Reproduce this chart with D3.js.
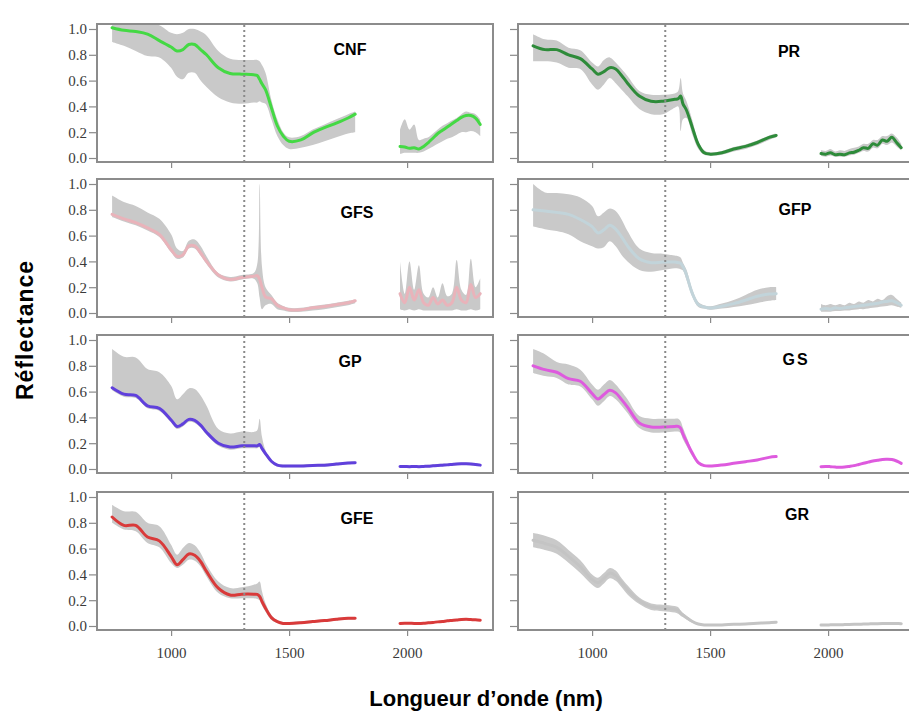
<!DOCTYPE html>
<html><head><meta charset="utf-8">
<script src="https://cdn.jsdelivr.net/npm/d3@7/dist/d3.min.js"></script>
<style>body{margin:0;background:#fff}</style>
</head><body>
<svg id="chart" width="909" height="712"></svg>
<script>
// ---------- DATA ----------
// wavelengths (nm): first segment 750-1780, second segment 1970-2310
const wavelengths = [750, 800, 850, 900, 950, 1000, 1025, 1050, 1075, 1100, 1125, 1150, 1200, 1250, 1300,
  1350, 1365, 1375, 1385, 1400, 1425, 1450, 1475, 1500, 1550, 1600, 1650, 1700, 1750, 1780,
  1970, 1990, 2010, 2030, 2050, 2070, 2090, 2110, 2130, 2150, 2170, 2190, 2210, 2230, 2250, 2270, 2290, 2310];
const panelNames = ["CNF", "PR", "GFS", "GFP", "GP", "GS", "GFE", "GR"];
const yTicks = [0.0, 0.2, 0.4, 0.6, 0.8, 1.0];
const xTicks = [1000, 1500, 2000];
const dashedWavelength = 1310;
const xLabel = "Longueur d’onde (nm)";
const yLabel = "Réflectance";

const cnfMean = [1.01, 0.99, 0.98, 0.96, 0.91, 0.86, 0.83, 0.84, 0.88, 0.88, 0.84, 0.80, 0.70, 0.655, 0.65, 0.645, 0.64, 0.61, 0.575, 0.53, 0.39, 0.25, 0.17, 0.13, 0.14, 0.195, 0.235, 0.27, 0.31, 0.34,
  0.09, 0.085, 0.075, 0.08, 0.07, 0.09, 0.12, 0.155, 0.19, 0.215, 0.24, 0.265, 0.29, 0.315, 0.33, 0.33, 0.31, 0.26];
const cnfHigh = [1.04, 1.04, 1.04, 1.04, 1.03, 0.97, 0.96, 0.97, 1.0, 1.0, 0.98, 0.95, 0.83, 0.77, 0.76, 0.76, 0.76, 0.75, 0.72, 0.66, 0.45, 0.30, 0.20, 0.16, 0.17, 0.22, 0.26, 0.30, 0.34, 0.36,
  0.22, 0.30, 0.22, 0.26, 0.14, 0.15, 0.16, 0.19, 0.22, 0.25, 0.27, 0.29, 0.31, 0.34, 0.36, 0.35, 0.34, 0.30];
const cnfLow = [0.90, 0.87, 0.83, 0.79, 0.78, 0.70, 0.63, 0.61, 0.66, 0.66, 0.60, 0.55, 0.47, 0.43, 0.42, 0.43, 0.43, 0.44, 0.43, 0.42, 0.30, 0.17, 0.10, 0.07, 0.08, 0.10, 0.13, 0.16, 0.19, 0.20,
  0.03, 0.04, 0.04, 0.04, 0.04, 0.05, 0.07, 0.09, 0.11, 0.13, 0.15, 0.16, 0.18, 0.20, 0.20, 0.21, 0.20, 0.17];

const prMean = [0.87, 0.84, 0.84, 0.80, 0.77, 0.69, 0.65, 0.67, 0.70, 0.69, 0.64, 0.58, 0.48, 0.44, 0.44, 0.455, 0.46, 0.48, 0.42, 0.37, 0.235, 0.105, 0.04, 0.03, 0.04, 0.07, 0.09, 0.12, 0.16, 0.175,
  0.035, 0.03, 0.04, 0.025, 0.03, 0.025, 0.04, 0.045, 0.06, 0.08, 0.075, 0.11, 0.10, 0.14, 0.13, 0.16, 0.12, 0.08];
const prHigh = [0.96, 0.92, 0.91, 0.855, 0.835, 0.74, 0.71, 0.76, 0.78, 0.74, 0.69, 0.635, 0.52, 0.49, 0.49, 0.50, 0.52, 0.62, 0.50, 0.44, 0.29, 0.13, 0.06, 0.045, 0.055, 0.085, 0.105, 0.135, 0.175, 0.19,
  0.06, 0.055, 0.07, 0.05, 0.06, 0.055, 0.07, 0.08, 0.09, 0.11, 0.11, 0.14, 0.14, 0.17, 0.17, 0.19, 0.16, 0.11];
const prLow = [0.75, 0.75, 0.74, 0.70, 0.69, 0.57, 0.53, 0.57, 0.62, 0.58, 0.53, 0.48, 0.38, 0.34, 0.34, 0.39, 0.40, 0.21, 0.30, 0.31, 0.18, 0.07, 0.025, 0.018, 0.025, 0.05, 0.07, 0.10, 0.14, 0.16,
  0.015, 0.01, 0.02, 0.01, 0.012, 0.01, 0.02, 0.025, 0.04, 0.055, 0.05, 0.08, 0.075, 0.11, 0.10, 0.12, 0.09, 0.06];

const gfsMean = [0.765, 0.73, 0.70, 0.66, 0.61, 0.49, 0.44, 0.45, 0.52, 0.52, 0.465, 0.40, 0.295, 0.26, 0.275, 0.285, 0.29, 0.26, 0.20, 0.125, 0.11, 0.06, 0.04, 0.026, 0.026, 0.04, 0.05, 0.065, 0.08, 0.095,
  0.15, 0.08, 0.20, 0.10, 0.18, 0.08, 0.06, 0.12, 0.07, 0.10, 0.06, 0.08, 0.20, 0.10, 0.08, 0.22, 0.12, 0.15];
const gfsHigh = [0.91, 0.86, 0.83, 0.78, 0.73, 0.61, 0.50, 0.48, 0.56, 0.57, 0.52, 0.44, 0.31, 0.28, 0.295, 0.31, 0.38, 1.0, 0.36, 0.20, 0.14, 0.08, 0.055, 0.04, 0.04, 0.055, 0.065, 0.08, 0.095, 0.105,
  0.40, 0.15, 0.40, 0.18, 0.37, 0.15, 0.12, 0.20, 0.12, 0.23, 0.13, 0.15, 0.41, 0.18, 0.14, 0.42, 0.20, 0.27];
const gfsLow = [0.745, 0.71, 0.68, 0.64, 0.59, 0.47, 0.42, 0.43, 0.50, 0.50, 0.445, 0.38, 0.275, 0.245, 0.26, 0.265, 0.23, 0.12, 0.03, 0.06, 0.07, 0.03, 0.02, 0.01, 0.01, 0.02, 0.03, 0.045, 0.06, 0.075,
  0.03, 0.02, 0.03, 0.02, 0.03, 0.02, 0.02, 0.02, 0.02, 0.02, 0.02, 0.02, 0.03, 0.02, 0.02, 0.03, 0.02, 0.03];

const gfpMean = [0.80, 0.79, 0.78, 0.765, 0.725, 0.67, 0.62, 0.645, 0.68, 0.65, 0.59, 0.52, 0.42, 0.39, 0.395, 0.395, 0.39, 0.385, 0.36, 0.295, 0.15, 0.065, 0.047, 0.039, 0.053, 0.073, 0.10, 0.13, 0.147, 0.15,
  0.03, 0.035, 0.03, 0.04, 0.035, 0.04, 0.045, 0.05, 0.055, 0.06, 0.065, 0.07, 0.075, 0.085, 0.09, 0.095, 0.08, 0.06];
const gfpHigh = [1.0, 0.935, 0.93, 0.92, 0.895, 0.83, 0.75, 0.78, 0.81, 0.79, 0.725, 0.635, 0.50, 0.465, 0.46, 0.445, 0.44, 0.43, 0.39, 0.335, 0.18, 0.086, 0.06, 0.052, 0.073, 0.10, 0.14, 0.18, 0.20, 0.20,
  0.07, 0.06, 0.07, 0.06, 0.07, 0.06, 0.08, 0.07, 0.09, 0.08, 0.10, 0.09, 0.11, 0.10, 0.13, 0.14, 0.11, 0.08];
const gfpLow = [0.67, 0.65, 0.635, 0.61, 0.556, 0.517, 0.50, 0.51, 0.556, 0.517, 0.45, 0.40, 0.334, 0.32, 0.334, 0.347, 0.345, 0.34, 0.33, 0.256, 0.125, 0.047, 0.034, 0.026, 0.034, 0.047, 0.06, 0.078, 0.094, 0.10,
  0.01, 0.01, 0.01, 0.015, 0.015, 0.02, 0.02, 0.025, 0.03, 0.03, 0.035, 0.04, 0.045, 0.05, 0.055, 0.06, 0.05, 0.04];

const gpMean = [0.63, 0.58, 0.57, 0.49, 0.47, 0.38, 0.33, 0.35, 0.385, 0.377, 0.34, 0.285, 0.20, 0.17, 0.18, 0.18, 0.18, 0.19, 0.16, 0.12, 0.06, 0.03, 0.023, 0.023, 0.023, 0.028, 0.03, 0.038, 0.046, 0.048,
  0.02, 0.02, 0.018, 0.02, 0.018, 0.02, 0.022, 0.025, 0.028, 0.03, 0.032, 0.035, 0.038, 0.04, 0.04, 0.038, 0.035, 0.03];
const gpHigh = [0.93, 0.87, 0.865, 0.775, 0.75, 0.645, 0.54, 0.58, 0.625, 0.62, 0.57, 0.49, 0.31, 0.275, 0.29, 0.287, 0.30, 0.39, 0.25, 0.146, 0.07, 0.04, 0.033, 0.033, 0.033, 0.038, 0.04, 0.048, 0.056, 0.058,
  0.03, 0.03, 0.028, 0.03, 0.028, 0.03, 0.032, 0.035, 0.038, 0.04, 0.042, 0.045, 0.048, 0.05, 0.05, 0.048, 0.045, 0.04];
const gpLow = [0.61, 0.56, 0.55, 0.47, 0.45, 0.36, 0.31, 0.33, 0.365, 0.357, 0.32, 0.265, 0.18, 0.15, 0.16, 0.16, 0.16, 0.17, 0.14, 0.10, 0.045, 0.02, 0.013, 0.013, 0.013, 0.018, 0.02, 0.028, 0.036, 0.038,
  0.012, 0.012, 0.01, 0.012, 0.01, 0.012, 0.014, 0.017, 0.02, 0.022, 0.024, 0.027, 0.03, 0.032, 0.032, 0.03, 0.027, 0.022];

const gsMean = [0.80, 0.77, 0.75, 0.70, 0.68, 0.585, 0.543, 0.577, 0.61, 0.59, 0.538, 0.48, 0.356, 0.325, 0.325, 0.33, 0.33, 0.317, 0.27, 0.213, 0.122, 0.05, 0.026, 0.023, 0.031, 0.044, 0.057, 0.07, 0.09, 0.096,
  0.018, 0.02, 0.018, 0.015, 0.013, 0.015, 0.02, 0.026, 0.035, 0.044, 0.053, 0.062, 0.068, 0.074, 0.075, 0.073, 0.062, 0.044];
const gsHigh = [0.93, 0.89, 0.83, 0.81, 0.77, 0.655, 0.615, 0.655, 0.69, 0.655, 0.60, 0.54, 0.41, 0.39, 0.39, 0.39, 0.39, 0.37, 0.32, 0.25, 0.135, 0.057, 0.031, 0.028, 0.036, 0.049, 0.062, 0.075, 0.095, 0.10,
  0.024, 0.026, 0.024, 0.021, 0.019, 0.021, 0.026, 0.032, 0.041, 0.05, 0.059, 0.068, 0.074, 0.08, 0.081, 0.079, 0.068, 0.05];
const gsLow = [0.745, 0.72, 0.706, 0.655, 0.64, 0.54, 0.49, 0.525, 0.565, 0.54, 0.49, 0.434, 0.317, 0.283, 0.283, 0.29, 0.29, 0.278, 0.23, 0.18, 0.096, 0.036, 0.021, 0.018, 0.026, 0.039, 0.052, 0.065, 0.085, 0.09,
  0.012, 0.014, 0.012, 0.009, 0.007, 0.009, 0.014, 0.02, 0.029, 0.038, 0.047, 0.056, 0.062, 0.068, 0.069, 0.067, 0.056, 0.038];

const gfeMean = [0.845, 0.78, 0.78, 0.69, 0.66, 0.54, 0.475, 0.514, 0.558, 0.548, 0.50, 0.423, 0.293, 0.24, 0.247, 0.247, 0.245, 0.23, 0.19, 0.138, 0.065, 0.034, 0.02, 0.02, 0.026, 0.034, 0.042, 0.052, 0.06, 0.06,
  0.02, 0.022, 0.022, 0.02, 0.02, 0.022, 0.025, 0.028, 0.032, 0.035, 0.04, 0.043, 0.046, 0.05, 0.052, 0.05, 0.048, 0.045];
const gfeHigh = [0.94, 0.89, 0.885, 0.80, 0.774, 0.63, 0.553, 0.605, 0.644, 0.626, 0.566, 0.475, 0.345, 0.294, 0.30, 0.32, 0.33, 0.345, 0.27, 0.177, 0.086, 0.044, 0.03, 0.03, 0.036, 0.044, 0.052, 0.062, 0.07, 0.07,
  0.027, 0.029, 0.029, 0.027, 0.027, 0.029, 0.032, 0.035, 0.039, 0.042, 0.047, 0.05, 0.053, 0.057, 0.059, 0.057, 0.055, 0.052];
const gfeLow = [0.80, 0.748, 0.735, 0.644, 0.61, 0.488, 0.45, 0.475, 0.514, 0.506, 0.462, 0.384, 0.255, 0.215, 0.215, 0.215, 0.21, 0.20, 0.16, 0.11, 0.047, 0.024, 0.01, 0.01, 0.016, 0.024, 0.032, 0.042, 0.05, 0.05,
  0.013, 0.015, 0.015, 0.013, 0.013, 0.015, 0.018, 0.021, 0.025, 0.028, 0.033, 0.036, 0.039, 0.043, 0.045, 0.043, 0.041, 0.038];

const grMean = [0.665, 0.64, 0.61, 0.54, 0.46, 0.36, 0.335, 0.37, 0.41, 0.39, 0.335, 0.28, 0.195, 0.15, 0.14, 0.13, 0.12, 0.10, 0.085, 0.065, 0.035, 0.015, 0.008, 0.008, 0.008, 0.013, 0.016, 0.021, 0.026, 0.029,
  0.008, 0.008, 0.009, 0.01, 0.01, 0.011, 0.012, 0.013, 0.014, 0.015, 0.016, 0.017, 0.018, 0.019, 0.02, 0.02, 0.019, 0.018];
const grHigh = [0.72, 0.70, 0.665, 0.59, 0.51, 0.40, 0.375, 0.41, 0.45, 0.43, 0.37, 0.315, 0.22, 0.175, 0.165, 0.155, 0.145, 0.12, 0.10, 0.08, 0.045, 0.02, 0.013, 0.012, 0.012, 0.017, 0.02, 0.025, 0.03, 0.033,
  0.012, 0.012, 0.013, 0.014, 0.014, 0.015, 0.016, 0.017, 0.018, 0.019, 0.02, 0.021, 0.022, 0.023, 0.024, 0.024, 0.023, 0.022];
const grLow = [0.61, 0.59, 0.56, 0.49, 0.41, 0.32, 0.295, 0.33, 0.37, 0.35, 0.30, 0.245, 0.17, 0.125, 0.115, 0.105, 0.095, 0.08, 0.07, 0.05, 0.025, 0.008, 0.003, 0.004, 0.004, 0.009, 0.012, 0.017, 0.022, 0.025,
  0.004, 0.004, 0.005, 0.006, 0.006, 0.007, 0.008, 0.009, 0.01, 0.011, 0.012, 0.013, 0.014, 0.015, 0.016, 0.016, 0.015, 0.014];

const lineColors = ["#44d944", "#2e8b3a", "#e9b3ba", "#c2d4da", "#6040dc", "#de5ade", "#d93a3a", "#c4c4c4"];

// ---------- BUILD ----------
const meanSeries = [cnfMean, prMean, gfsMean, gfpMean, gpMean, gsMean, gfeMean, grMean];
const highSeries = [cnfHigh, prHigh, gfsHigh, gfpHigh, gpHigh, gsHigh, gfeHigh, grHigh];
const lowSeries = [cnfLow, prLow, gfsLow, gfpLow, gpLow, gsLow, gfeLow, grLow];

const svg = d3.select("#chart");
const W = 396, H = 138;
const colX = [97, 518];
const rowY = [24, 179, 335, 492];
const labelPos = [[253, 31], [271, 33], [260, 39], [277, 36], [253, 32], [278, 30], [260, 32], [279, 28]];

const x = d3.scaleLinear().domain([686, 2364]).range([0, W]);
const y = d3.scaleLinear().domain([0, 1]).range([134, 5]);

const curve = d3.curveCatmullRom.alpha(0.5);
const area = d3.area().x(d => x(d.w)).y0(d => y(d.lo)).y1(d => y(d.hi)).curve(curve);
const line = d3.line().x(d => x(d.w)).y(d => y(d.m)).curve(curve);

panelNames.forEach((name, i) => {
  const col = i % 2, row = Math.floor(i / 2);
  const g = svg.append("g").attr("transform", `translate(${colX[col]},${rowY[row]})`);
  const clipId = "clip" + i;
  g.append("clipPath").attr("id", clipId).append("rect").attr("x", 0).attr("y", 0).attr("width", W).attr("height", H);

  const pts = wavelengths.map((w, k) => ({ w, m: meanSeries[i][k], hi: highSeries[i][k], lo: lowSeries[i][k] }));
  const segs = [pts.filter(d => d.w < 1850), pts.filter(d => d.w > 1850)];

  const plot = g.append("g").attr("clip-path", `url(#${clipId})`);
  segs.forEach(s => {
    plot.append("path").attr("d", area(s)).attr("fill", "#c9c9c9");
  });
  segs.forEach(s => {
    plot.append("path").attr("d", line(s)).attr("fill", "none")
      .attr("stroke", lineColors[i]).attr("stroke-width", 3).attr("stroke-linejoin", "round")
      .attr("stroke-linecap", "round");
  });

  // dashed vertical line
  g.append("line").attr("x1", x(dashedWavelength)).attr("x2", x(dashedWavelength))
    .attr("y1", 1).attr("y2", H - 1)
    .attr("stroke", "#8a8a8a").attr("stroke-width", 2).attr("stroke-dasharray", "2,3");

  // axes
  const yAxis = d3.axisLeft(y).tickValues(yTicks).tickSize(8).tickPadding(2)
    .tickFormat(col === 0 ? d3.format(".1f") : () => "");
  const ya = g.append("g").call(yAxis);
  const xAxis = d3.axisBottom(x).tickValues(xTicks).tickSize(6).tickPadding(11)
    .tickFormat(row === 3 ? d3.format("d") : () => "");
  const xa = g.append("g").attr("transform", `translate(0,${H})`).call(xAxis);
  [ya, xa].forEach(a => {
    a.select(".domain").remove();
    a.selectAll(".tick line").attr("stroke", "#8a8a8a").attr("stroke-width", 1.2);
    a.selectAll(".tick text").attr("fill", "#3a3a3a")
      .style("font-family", "'Liberation Serif', 'DejaVu Serif', serif").style("font-size", "15px");
  });

  // frame
  g.append("rect").attr("x", 0).attr("y", 0).attr("width", W).attr("height", H)
    .attr("fill", "none").attr("stroke", "#8c8c8c").attr("stroke-width", 2);

  // panel label
  g.append("text").attr("x", labelPos[i][0]).attr("y", labelPos[i][1])
    .attr("text-anchor", "middle")
    .style("font-family", "'Liberation Sans', Arial, sans-serif").style("font-weight", "bold")
    .style("font-size", "16px").style("letter-spacing", name === "GS" ? "2px" : "0px")
    .attr("fill", "#000").text(name);
});

// axis titles
svg.append("text").attr("transform", "translate(33,330) rotate(-90)")
  .attr("text-anchor", "middle")
  .style("font-family", "'Liberation Sans', Arial, sans-serif").style("font-weight", "bold")
  .style("font-size", "23px").style("letter-spacing", "1px").attr("fill", "#000").text(yLabel);

svg.append("text").attr("x", 486).attr("y", 706).attr("text-anchor", "middle")
  .style("font-family", "'Liberation Sans', Arial, sans-serif").style("font-weight", "bold")
  .style("font-size", "22px").attr("fill", "#000").text(xLabel);
</script>
</body></html>
